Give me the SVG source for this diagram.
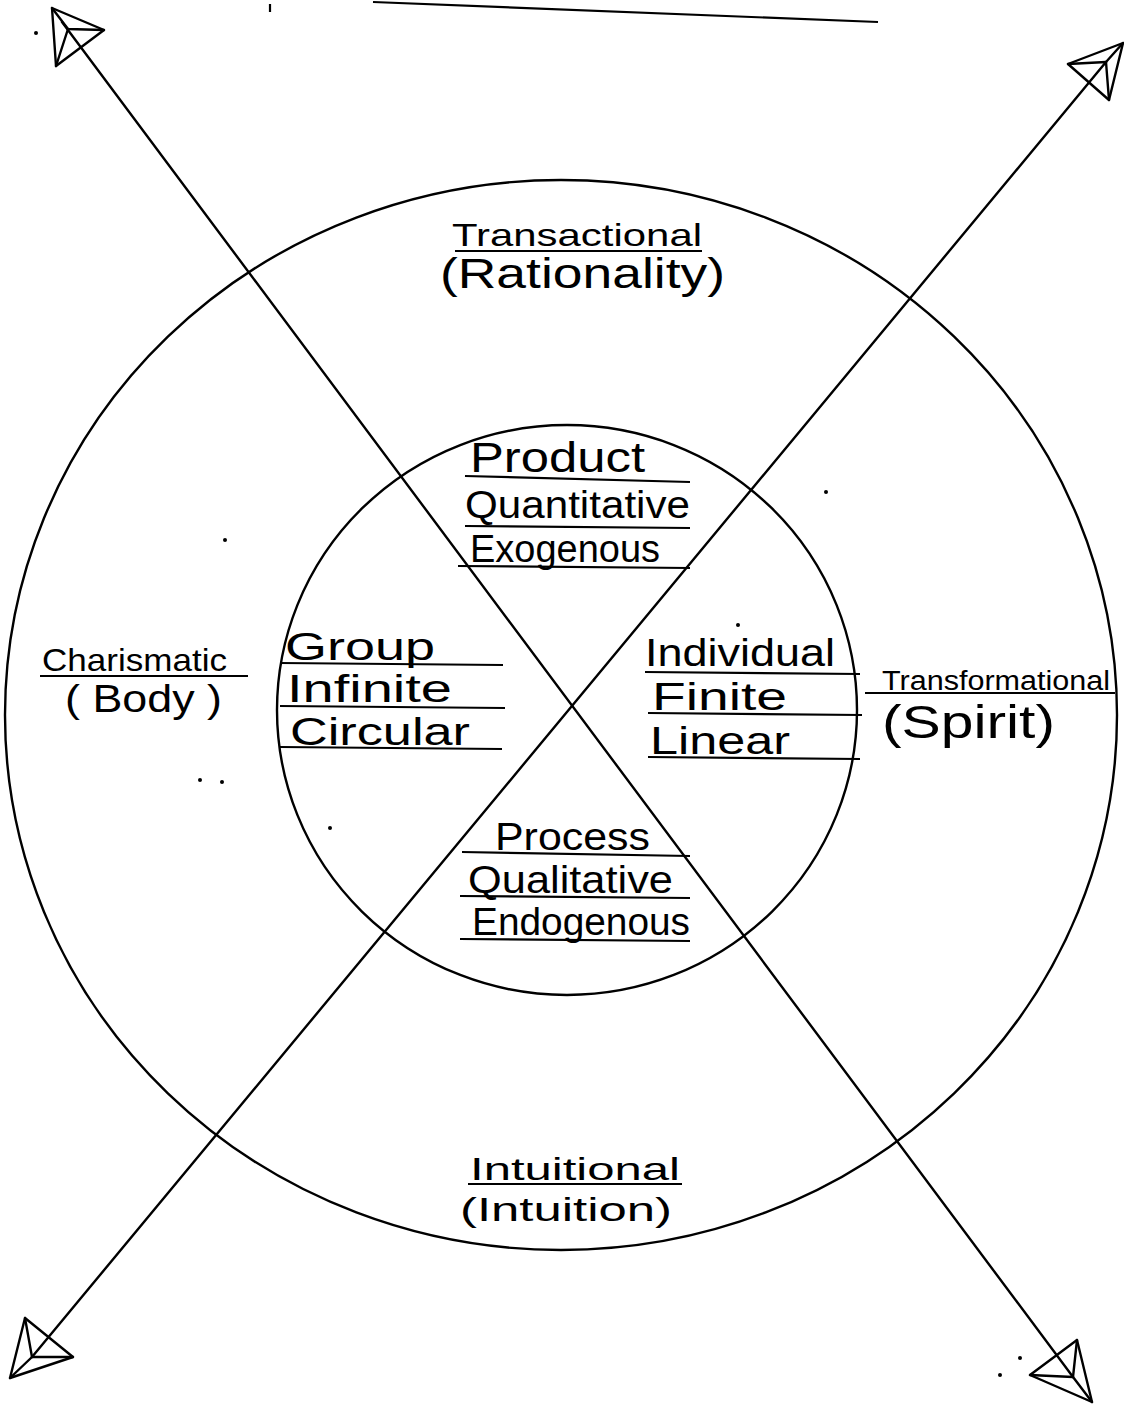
<svg xmlns="http://www.w3.org/2000/svg" width="1124" height="1405" viewBox="0 0 1124 1405">
<style>
.ln{stroke:#000;stroke-width:2.4;fill:none;stroke-linecap:round;stroke-linejoin:round}
.ul{stroke:#000;stroke-width:2.2;fill:none}
.t{font-family:"Liberation Sans","DejaVu Sans",sans-serif;fill:#000}
.big{font-size:38px}
.mid{font-size:34px}
.sm{font-size:32px}
.dot{fill:#000}
</style>
<rect width="1124" height="1405" fill="#fff"/>
<!-- title fragment underline at top (cut off) -->
<line x1="373" y1="2" x2="878" y2="22" class="ul" stroke-width="3.5"/>
<line x1="270" y1="4" x2="270" y2="12" class="ul"/>
<g id="circles">
  <ellipse id="outer" cx="561" cy="715" rx="556" ry="535" class="ln"/>
  <ellipse id="inner" cx="567" cy="710" rx="290" ry="285" class="ln"/>
</g>
<g id="connectors">
  <line x1="62" y1="22" x2="1073" y2="1377" class="ln"/>
  <line x1="1106" y1="62" x2="32" y2="1357" class="ln"/>
  <g id="arrow-tl">
    <polygon points="52,8 104,30 56,66" class="ln"/>
    <polyline points="52,8 68,29 104,30" class="ln"/>
    <line x1="68" y1="29" x2="56" y2="66" class="ln"/>
  </g>
  <g id="arrow-tr">
    <polygon points="1123,43 1068,64 1109,100" class="ln"/>
    <polyline points="1068,64 1106,62 1109,100" class="ln"/>
    <line x1="1106" y1="62" x2="1123" y2="43" class="ln"/>
  </g>
  <g id="arrow-bl">
    <polygon points="25,1318 73,1357 10,1378" class="ln"/>
    <polyline points="25,1318 32,1357 73,1357" class="ln"/>
    <line x1="32" y1="1357" x2="10" y2="1378" class="ln"/>
  </g>
  <g id="arrow-br">
    <polygon points="1030,1375 1077,1340 1092,1402" class="ln"/>
    <polyline points="1030,1375 1073,1377 1077,1340" class="ln"/>
    <line x1="1073" y1="1377" x2="1092" y2="1402" class="ln"/>
  </g>
</g>
<g id="transactional">
  <text x="452" y="246" class="t sm" textLength="250" lengthAdjust="spacingAndGlyphs">Transactional</text>
  <line x1="455" y1="251" x2="702" y2="251" class="ul"/>
  <text x="440" y="288" class="t" font-size="42" textLength="285" lengthAdjust="spacingAndGlyphs">(Rationality)</text>
</g>
<g id="charismatic">
  <text x="42" y="671" class="t sm" textLength="185" lengthAdjust="spacingAndGlyphs">Charismatic</text>
  <line x1="40" y1="676" x2="248" y2="676" class="ul"/>
  <text x="65" y="712" class="t big" textLength="157" lengthAdjust="spacingAndGlyphs">( Body )</text>
</g>
<g id="transformational">
  <text x="882" y="690" class="t" font-size="27" textLength="228" lengthAdjust="spacingAndGlyphs">Transformational</text>
  <line x1="865" y1="693" x2="1115" y2="693" class="ul"/>
  <text x="882" y="738" class="t" font-size="46" textLength="173" lengthAdjust="spacingAndGlyphs">(Spirit)</text>
</g>
<g id="intuitional">
  <text x="470" y="1180" class="t sm" textLength="210" lengthAdjust="spacingAndGlyphs">Intuitional</text>
  <line x1="468" y1="1184" x2="682" y2="1184" class="ul"/>
  <text x="460" y="1221" class="t mid" textLength="212" lengthAdjust="spacingAndGlyphs">(Intuition)</text>
</g>
<g id="product">
  <text x="470" y="472" class="t" font-size="42" textLength="175" lengthAdjust="spacingAndGlyphs">Product</text>
  <line x1="465" y1="476" x2="690" y2="482" class="ul"/>
  <text x="465" y="518" class="t big" textLength="225" lengthAdjust="spacingAndGlyphs">Quantitative</text>
  <line x1="465" y1="526" x2="690" y2="528" class="ul"/>
  <text x="470" y="562" class="t big" textLength="190" lengthAdjust="spacingAndGlyphs">Exogenous</text>
  <line x1="458" y1="566" x2="690" y2="568" class="ul"/>
</g>
<g id="group">
  <text x="285" y="660" class="t big" textLength="150" lengthAdjust="spacingAndGlyphs">Group</text>
  <line x1="280" y1="663" x2="503" y2="665" class="ul"/>
  <text x="287" y="702" class="t big" textLength="165" lengthAdjust="spacingAndGlyphs">Infinite</text>
  <line x1="280" y1="706" x2="505" y2="708" class="ul"/>
  <text x="290" y="745" class="t big" textLength="180" lengthAdjust="spacingAndGlyphs">Circular</text>
  <line x1="280" y1="747" x2="502" y2="749" class="ul"/>
</g>
<g id="individual">
  <text x="645" y="666" class="t big" textLength="190" lengthAdjust="spacingAndGlyphs">Individual</text>
  <line x1="645" y1="672" x2="860" y2="674" class="ul"/>
  <text x="652" y="710" class="t big" textLength="135" lengthAdjust="spacingAndGlyphs">Finite</text>
  <line x1="648" y1="713" x2="862" y2="715" class="ul"/>
  <text x="650" y="754" class="t big" textLength="140" lengthAdjust="spacingAndGlyphs">Linear</text>
  <line x1="648" y1="757" x2="860" y2="759" class="ul"/>
</g>
<g id="process">
  <text x="495" y="850" class="t big" textLength="155" lengthAdjust="spacingAndGlyphs">Process</text>
  <line x1="462" y1="852" x2="690" y2="856" class="ul"/>
  <text x="468" y="893" class="t big" textLength="205" lengthAdjust="spacingAndGlyphs">Qualitative</text>
  <line x1="460" y1="896" x2="690" y2="898" class="ul"/>
  <text x="472" y="935" class="t big" textLength="218" lengthAdjust="spacingAndGlyphs">Endogenous</text>
  <line x1="460" y1="939" x2="690" y2="941" class="ul"/>
</g>
<g id="specks">
  <circle cx="36" cy="33" r="2" class="dot"/>
  <circle cx="225" cy="540" r="2" class="dot"/>
  <circle cx="200" cy="780" r="2" class="dot"/>
  <circle cx="222" cy="782" r="2" class="dot"/>
  <circle cx="330" cy="828" r="2" class="dot"/>
  <circle cx="826" cy="492" r="2" class="dot"/>
  <circle cx="738" cy="625" r="2" class="dot"/>
  <circle cx="1020" cy="1358" r="2" class="dot"/>
  <circle cx="1000" cy="1375" r="2" class="dot"/>
</g>
</svg>
